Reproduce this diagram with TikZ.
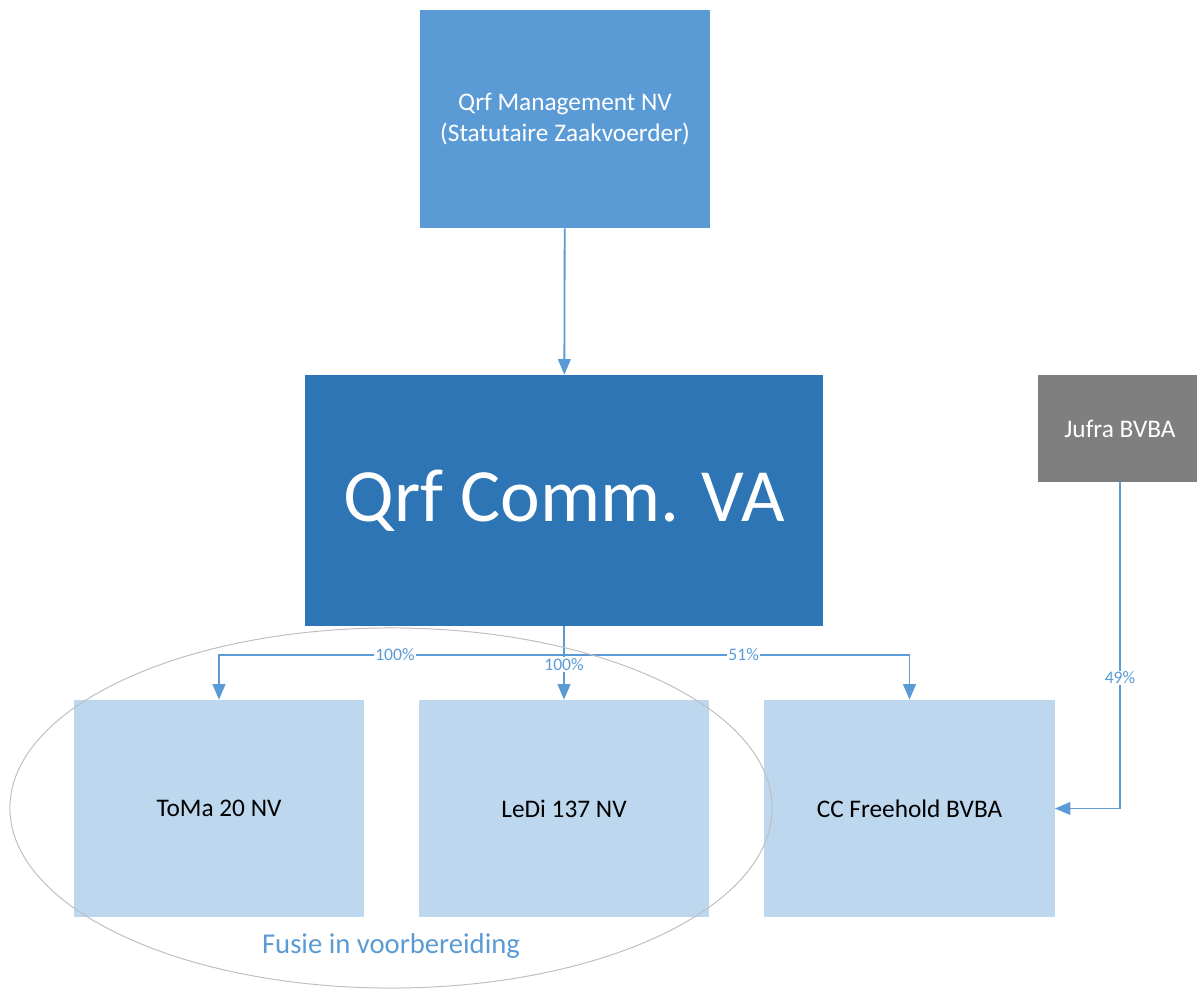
\documentclass[tikz, border = 0pt]{standalone}
\usepackage{fontspec}
\setmainfont{Carlito}
\usetikzlibrary{arrows.meta, positioning}

\definecolor{midblue}{HTML}{5B9BD5}
\definecolor{darkblue}{HTML}{2E75B6}
\definecolor{paleblue}{HTML}{BDD7EE}
\definecolor{boxgray}{HTML}{7F7F7F}
\definecolor{ringgray}{HTML}{BFBFBF}

\begin{document}
\begin{tikzpicture}[x = 0.025cm, y = -0.025cm,
	firm/.style = {rectangle, inner sep = 0pt, align = center, font = \fontsize{18}{22}\selectfont},
	sub/.style = {firm, fill = paleblue, minimum width = 7.25cm, minimum height = 5.425cm},
	link/.style = {draw = midblue, line width = 1.3pt, -{Triangle[width = 9pt, length = 11pt]}},
	share/.style = {text = midblue, fill = white, inner sep = 1pt, font = \fontsize{12.5}{15}\selectfont}]
	\useasboundingbox (0, 0) rectangle (1197, 990);

	\node[firm, fill = midblue, text = white, minimum width = 7.25cm, minimum height = 5.45cm] (mgmt) at (565, 119){Qrf Management NV\\(Statutaire Zaakvoerder)};
	\node[firm, fill = darkblue, text = white, minimum width = 12.95cm, minimum height = 6.275cm, font = \fontsize{53.5}{60}\selectfont] (comm) at (564, 500.5){Qrf Comm. VA};
	\node[firm, fill = boxgray, text = white, minimum width = 4.1cm, minimum height = 2.675cm] (jufra) at (1120, 428.5){Jufra BVBA};

	\node[sub] (toma) at (219, 808.5){ToMa 20 NV};
	\node[sub] (ledi) at (564, 808.5){LeDi 137 NV};
	\node[sub] (cc) at (909.5, 808.5){CC Freehold BVBA};

	\coordinate (bus) at (564, 655);

	\draw[link] (mgmt) -- (comm);
	\draw[draw = midblue, line width = 1.3pt] (comm.south) -- (bus);
	\draw[link] (bus) -| node[share, pos = 0.245]{100\%} (toma.north);
	\draw[link] (bus) -- (ledi.north) node[share, pos = 0, below = 1pt]{100\%};
	\draw[link] (bus) -| node[share, pos = 0.26]{51\%} (cc.north);
	\draw[link] (jufra.south) |- node[share, pos = 0.3]{49\%} (cc.east);

	% merger group
	\draw[ringgray, line width = 0.7pt] (391, 808) ellipse [x radius = 9.525cm, y radius = 4.5cm];
	\node[text = midblue, font = \fontsize{20.4}{24}\selectfont] (fusie) at (391, 946){Fusie in voorbereiding};
\end{tikzpicture}
\end{document}
